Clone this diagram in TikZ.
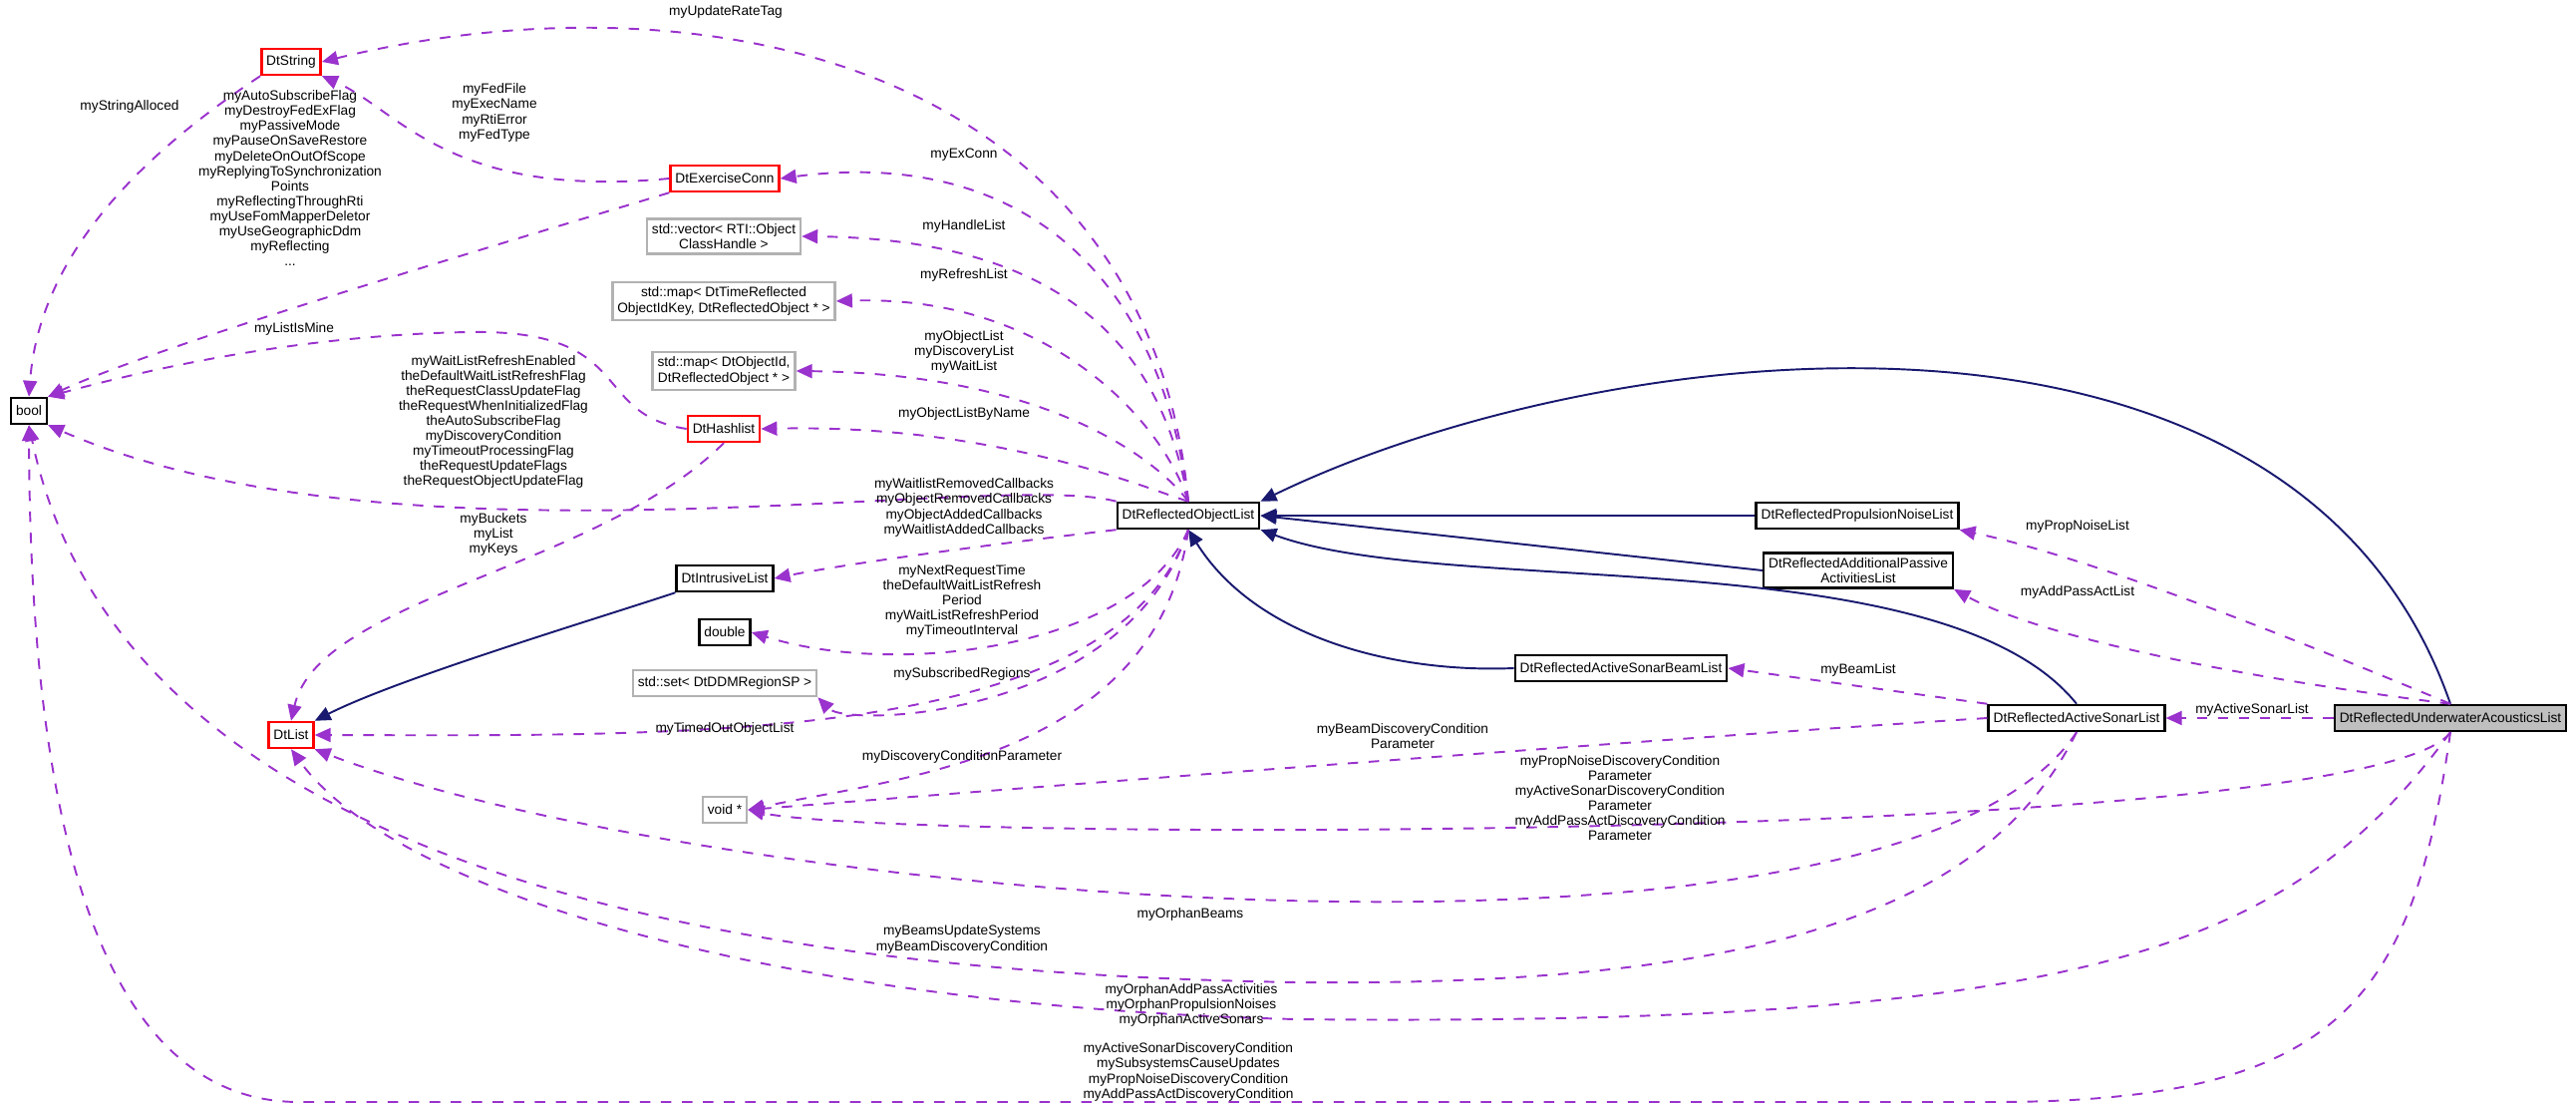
\documentclass[tikz,border=0pt]{standalone}
\usepackage{fontspec}
\setmainfont{Liberation Sans}
\usetikzlibrary{arrows.meta}
\definecolor{dep}{HTML}{9A32CD}
\definecolor{inh}{HTML}{191970}
\tikzset{
  cls/.style={draw=black, line width=0.7pt, fill=white, inner sep=1.4pt, minimum height=2.6mm, align=center, font=\fontsize{3.9}{4.4}\selectfont},
  redcls/.style={cls, draw=red},
  grycls/.style={cls, draw=black!30},
  cur/.style={cls, fill=black!25},
  lbl/.style={align=center, inner sep=0pt, font=\fontsize{3.9}{4.3}\selectfont},
  use/.style={dep, dashed, line width=0.55pt, -{Triangle[length=1.6mm,width=1.4mm]}},
  isa/.style={inh, line width=0.55pt, -{Triangle[length=1.6mm,width=1.4mm]}}
}
\begin{document}
\begin{tikzpicture}[x=0.1mm, y=-0.1mm]
   \useasboundingbox (0,0) rectangle (2584,1111);

   % classes
   \node[cls] (bool) at (29,412) {bool};
   \node[redcls] (str) at (292,62) {DtString};
   \node[redcls] (exc) at (727,179) {DtExerciseConn};
   \node[grycls] (vec) at (726,237) {std::vector< RTI::Object\\ClassHandle >};
   \node[grycls] (mapa) at (726,302) {std::map< DtTimeReflected\\ObjectIdKey, DtReflectedObject * >};
   \node[grycls] (mapb) at (726,372) {std::map< DtObjectId,\\DtReflectedObject * >};
   \node[redcls] (hash) at (726,430) {DtHashlist};
   \node[cls] (intr) at (727,580) {DtIntrusiveList};
   \node[cls] (dbl) at (727,634) {double};
   \node[grycls] (set) at (727,685) {std::set< DtDDMRegionSP >};
   \node[redcls] (dlist) at (292,737) {DtList};
   \node[grycls] (void) at (727,812) {void *};
   \node[cls] (ol) at (1192,517) {DtReflectedObjectList};
   \node[cls] (prop) at (1863,517) {DtReflectedPropulsionNoiseList};
   \node[cls] (add) at (1864,572) {DtReflectedAdditionalPassive\\ActivitiesList};
   \node[cls] (beam) at (1626,670) {DtReflectedActiveSonarBeamList};
   \node[cls] (asl) at (2083,720) {DtReflectedActiveSonarList};
   \node[cur] (uw) at (2458,720) {DtReflectedUnderwaterAcousticsList};

   % inheritance
   \draw[isa] (intr.south west) .. controls (600,620) and (400,680) .. (dlist.north east);
   \draw[isa] (prop.west) -- (ol.east);
   \draw[isa] (add.west) -- (ol.east);
   \draw[isa] (beam.west) .. controls (1400,675) and (1260,640) .. (ol.south);
   \draw[isa] (asl.north) .. controls (1950,540) and (1450,600) .. (ol.south east);
   \draw[isa] (uw.north) .. controls (2300,250) and (1600,340) .. (ol.north east);

   % usage
   \draw[use] (ol.north) .. controls (1150,60) and (700,-30) .. (str.east);
   \draw[use] (str.south west) .. controls (150,150) and (40,250) .. (bool.north);
   \draw[use] (exc.west) .. controls (450,200) and (400,110) .. (str.south east);
   \draw[use] (exc.south west) .. controls (450,260) and (150,350) .. (bool.north east);
   \draw[use] (ol.north) .. controls (1160,250) and (1000,150) .. (exc.east);
   \draw[use] (ol.north) .. controls (1170,380) and (1100,240) .. (vec.east);
   \draw[use] (ol.north) .. controls (1165,420) and (1050,295) .. (mapa.east);
   \draw[use] (ol.north) .. controls (1160,460) and (1050,375) .. (mapb.east);
   \draw[use] (ol.north) .. controls (1150,490) and (1000,425) .. (hash.east);
   \draw[use] (hash.west) .. controls (590,415) and (640,330) .. (470,333) .. controls (300,336) and (150,370) .. (bool.north east);
   \draw[use] (ol.north west) .. controls (1000,470) and (400,580) .. (bool.south east);
   \draw[use] (hash.south) .. controls (600,570) and (320,600) .. (dlist.north);
   \draw[use] (ol.south west) .. controls (1000,545) and (850,565) .. (intr.east);
   \draw[use] (ol.south) .. controls (1140,650) and (900,680) .. (dbl.east);
   \draw[use] (ol.south) .. controls (1130,720) and (850,730) .. (set.south east);
   \draw[use] (ol.south) .. controls (1120,745) and (700,738) .. (dlist.east);
   \draw[use] (ol.south) .. controls (1160,760) and (900,780) .. (void.east);
   \draw[use] (asl.west) .. controls (1600,745) and (900,800) .. (void.east);
   \draw[use] (uw.south) .. controls (2380,845) and (900,845) .. (void.east);
   \draw[use] (asl.south) .. controls (1900,1010) and (700,900) .. (dlist.south east);
   \draw[use] (asl.south) .. controls (2000,900) and (1800,990) .. (1300,985) .. controls (700,975) and (120,860) .. (bool.south);
   \draw[use] (uw.south) .. controls (2300,950) and (2100,1030) .. (1300,1022) .. controls (800,1010) and (400,900) .. (dlist.south);
   \draw[use] (uw.south) .. controls (2420,1000) and (2350,1105) .. (2000,1105) -- (300,1105) .. controls (60,1105) and (30,700) .. (bool.south);
   \draw[use] (asl.north west) -- (beam.east);
   \draw[use] (uw.west) -- (asl.east);
   \draw[use] (uw.north) .. controls (2300,640) and (2100,560) .. (prop.south east);
   \draw[use] (uw.north) .. controls (2250,680) and (2050,640) .. (add.south east);

   % labels
   \node[lbl] (lUpd) at (728,12) {myUpdateRateTag};
   \node[lbl] (lStr) at (130,107) {myStringAlloced};
   \node[lbl, anchor=north] (lExb) at (291,90) {myAutoSubscribeFlag\\myDestroyFedExFlag\\myPassiveMode\\myPauseOnSaveRestore\\myDeleteOnOutOfScope\\myReplyingToSynchronization\\Points\\myReflectingThroughRti\\myUseFomMapperDeletor\\myUseGeographicDdm\\myReflecting\\...};
   \node[lbl] (lFed) at (496,113) {myFedFile\\myExecName\\myRtiError\\myFedType};
   \node[lbl] (lExc) at (967,155) {myExConn};
   \node[lbl] (lHnd) at (967,227) {myHandleList};
   \node[lbl] (lRef) at (967,276) {myRefreshList};
   \node[lbl] (lObj) at (967,353) {myObjectList\\myDiscoveryList\\myWaitList};
   \node[lbl] (lByN) at (967,415) {myObjectListByName};
   \node[lbl] (lMine) at (295,330) {myListIsMine};
   \node[lbl] (lWlr) at (495,423) {myWaitListRefreshEnabled\\theDefaultWaitListRefreshFlag\\theRequestClassUpdateFlag\\theRequestWhenInitializedFlag\\theAutoSubscribeFlag\\myDiscoveryCondition\\myTimeoutProcessingFlag\\theRequestUpdateFlags\\theRequestObjectUpdateFlag};
   \node[lbl] (lCb) at (967,509) {myWaitlistRemovedCallbacks\\myObjectRemovedCallbacks\\myObjectAddedCallbacks\\myWaitlistAddedCallbacks};
   \node[lbl] (lBkt) at (495,536) {myBuckets\\myList\\myKeys};
   \node[lbl] (lNrt) at (965,603) {myNextRequestTime\\theDefaultWaitListRefresh\\Period\\myWaitListRefreshPeriod\\myTimeoutInterval};
   \node[lbl] (lSub) at (965,676) {mySubscribedRegions};
   \node[lbl] (lTmo) at (727,731) {myTimedOutObjectList};
   \node[lbl] (lDcp) at (965,759) {myDiscoveryConditionParameter};
   \node[lbl] (lBdc) at (1407,738) {myBeamDiscoveryCondition\\Parameter};
   \node[lbl] (lPnd) at (1625,800) {myPropNoiseDiscoveryCondition\\Parameter\\myActiveSonarDiscoveryCondition\\Parameter\\myAddPassActDiscoveryCondition\\Parameter};
   \node[lbl] (lOrb) at (1194,917) {myOrphanBeams};
   \node[lbl] (lBus) at (965,942) {myBeamsUpdateSystems\\myBeamDiscoveryCondition};
   \node[lbl] (lOap) at (1195,1008) {myOrphanAddPassActivities\\myOrphanPropulsionNoises\\myOrphanActiveSonars};
   \node[lbl] (lAsd) at (1192,1075) {myActiveSonarDiscoveryCondition\\mySubsystemsCauseUpdates\\myPropNoiseDiscoveryCondition\\myAddPassActDiscoveryCondition};
   \node[lbl] (lPnl) at (2084,528) {myPropNoiseList};
   \node[lbl] (lApl) at (2084,594) {myAddPassActList};
   \node[lbl] (lBml) at (1864,672) {myBeamList};
   \node[lbl] (lAsl) at (2259,712) {myActiveSonarList};
\end{tikzpicture}
\end{document}
